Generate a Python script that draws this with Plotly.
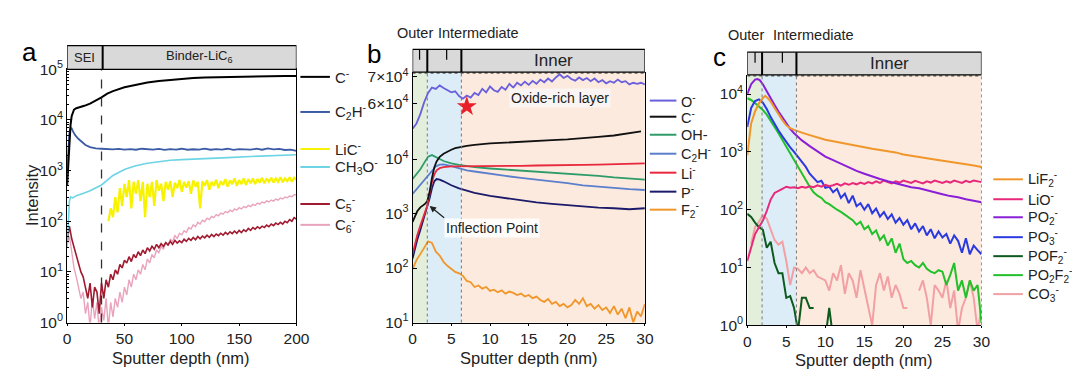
import plotly.graph_objects as go

# ================= DATA =================
# ---- panel a (depth 0-200 nm) ----
a_c_x = [0, 1, 2, 3, 4, 5, 6, 8, 10, 12, 15, 20, 25, 30, 35, 40, 50, 60, 70, 80, 90, 100, 110, 120, 130, 140, 150, 160, 170, 180, 190, 200]
a_c_y = [500, 1500, 4000, 8000, 12000, 14500, 16000, 17000, 17500, 18000, 19000, 21000, 24000, 28000, 33000, 37000, 44000, 50000, 55000, 59000, 62000, 65000, 67000, 69000, 70000, 71000, 72000, 72500, 73000, 73500, 74000, 74000]

a_c2h_x = [0, 1, 2, 3, 4, 5, 7, 10, 13, 16, 20, 25, 30, 35, 40, 45, 50, 55, 60, 65, 70, 75, 80, 85, 90, 95, 100, 105, 110, 115, 120, 125, 130, 135, 140, 145, 150, 155, 160, 165, 170, 175, 180, 185, 190, 195, 200]
a_c2h_y = [1000, 2500, 5500, 7000, 6800, 6000, 5000, 4200, 3600, 3200, 2900, 2750, 2700, 2650, 2620, 2680, 2600, 2650, 2580, 2700, 2620, 2600, 2680, 2560, 2650, 2600, 2700, 2580, 2640, 2600, 2720, 2580, 2660, 2600, 2700, 2560, 2650, 2620, 2600, 2700, 2580, 2750, 2620, 2680, 2550, 2600, 2450]

a_ch3o_x = [0, 1, 2, 3, 5, 8, 10, 15, 20, 25, 30, 35, 40, 45, 50, 55, 60, 70, 80, 90, 100, 110, 120, 140, 160, 180, 200]
a_ch3o_y = [30, 120, 250, 300, 290, 320, 330, 360, 400, 460, 520, 650, 800, 920, 1050, 1150, 1250, 1400, 1500, 1600, 1650, 1700, 1750, 1800, 1900, 1950, 2050]

a_lic_x = [36, 38, 40, 42, 44, 46, 48, 50, 52, 54, 56, 58, 60, 62, 64, 66, 68, 70, 72, 74, 76, 78, 80, 82, 84, 86, 88, 90, 92, 94, 96, 98, 100, 102, 104, 106, 108, 110, 112, 114, 116, 118, 120, 122, 124, 126, 128, 130, 132, 134, 136, 138, 140, 142, 144, 146, 148, 150, 152, 154, 156, 158, 160, 162, 164, 166, 168, 170, 172, 174, 176, 178, 180, 182, 184, 186, 188, 190, 192, 194, 196, 198, 200]
a_lic_y = [100, 180, 120, 300, 150, 450, 200, 550, 300, 650, 180, 600, 350, 650, 250, 600, 120, 550, 300, 600, 200, 650, 400, 550, 250, 600, 420, 620, 300, 580, 450, 650, 380, 600, 460, 620, 350, 640, 480, 600, 180, 620, 500, 650, 420, 600, 500, 660, 450, 620, 520, 680, 480, 640, 540, 700, 500, 650, 540, 700, 520, 680, 560, 700, 540, 680, 580, 720, 560, 700, 600, 720, 580, 700, 600, 740, 590, 700, 620, 740, 600, 720, 650]

a_noise_x = [0, 2, 4, 6, 8, 10, 12, 14, 16, 18, 20, 22, 24, 26, 28, 30, 32, 34, 36, 38, 40, 42, 44, 46, 48, 50, 52, 54, 56, 58, 60, 62, 64, 66, 68, 70, 72, 74, 76, 78, 80, 82, 84, 86, 88, 90, 92, 94, 96, 98, 100, 102, 104, 106, 108, 110, 112, 114, 116, 118, 120, 122, 124, 126, 128, 130, 132, 134, 136, 138, 140, 142, 144, 146, 148, 150, 152, 154, 156, 158, 160, 162, 164, 166, 168, 170, 172, 174, 176, 178, 180, 182, 184, 186, 188, 190, 192, 194, 196, 198, 200]
a_c5_y = [40, 80, 45, 30, 20, 14, 10, 8, 5, 3, 6, 2, 5, 4, 1.5, 6, 3, 7, 5, 9, 7, 11, 9, 14, 12, 17, 15, 20, 16, 22, 19, 25, 21, 27, 23, 30, 26, 32, 28, 35, 30, 36, 32, 38, 34, 40, 35, 42, 37, 41, 38, 44, 40, 46, 42, 48, 43, 50, 45, 51, 47, 53, 48, 55, 50, 56, 52, 58, 53, 60, 55, 62, 57, 64, 58, 66, 60, 68, 63, 72, 66, 75, 70, 78, 72, 80, 75, 84, 78, 88, 82, 92, 86, 95, 88, 100, 94, 108, 100, 118, 110]
a_c6_y = [35, 50, 25, 12, 8, 5, 3, 4, 1.5, 2.5, 0.8, 3, 1.2, 2.5, 0.7, 2, 1.1, 3, 0.8, 2.5, 1.3, 3, 2, 4, 2.5, 5, 3.5, 7, 5, 9, 7, 11, 9, 14, 11, 18, 15, 22, 19, 27, 24, 32, 28, 38, 33, 44, 40, 52, 46, 58, 54, 65, 60, 75, 70, 85, 78, 95, 88, 105, 98, 115, 108, 125, 118, 135, 128, 145, 138, 155, 148, 165, 155, 175, 165, 185, 175, 195, 185, 205, 195, 215, 205, 228, 218, 240, 230, 252, 240, 262, 250, 275, 262, 288, 275, 300, 290, 315, 305, 335, 330]

# ---- panel b (depth 0-30 nm) ----
b_fine_x = [0, 0.5, 1, 1.5, 2, 2.5, 3, 3.5, 4, 4.5, 5, 5.5, 6, 6.5, 7, 7.5, 8, 8.5, 9, 9.5, 10, 10.5, 11, 11.5, 12, 12.5, 13, 13.5, 14, 14.5, 15, 15.5, 16, 16.5, 17, 17.5, 18, 18.5, 19, 19.5, 20, 20.5, 21, 21.5, 22, 22.5, 23, 23.5, 24, 24.5, 25, 25.5, 26, 26.5, 27, 27.5, 28, 28.5, 29, 29.5, 30]
b_o_y = [50500, 52500, 56000, 60500, 64000, 66000, 65500, 66800, 65800, 65000, 64200, 64600, 62800, 61800, 63000, 62200, 64000, 63200, 65500, 64200, 66400, 65000, 64400, 66200, 65200, 67400, 66000, 67800, 66800, 68200, 67000, 68500, 67400, 69000, 68000, 69400, 68300, 69800, 71000, 69600, 70400, 69200, 68600, 69800, 68800, 69600, 68400, 69400, 68000, 68800, 67600, 68400, 67800, 69000, 68000, 68400, 67200, 67800, 67400, 67800, 67200]
b_f2_y = [95, 140, 180, 240, 310, 290, 200, 170, 130, 110, 95, 85, 80, 72, 58, 55, 45, 48, 42, 45, 38, 40, 36, 39, 34, 37, 35, 32, 34, 30, 32, 28, 30, 26, 24, 27, 22, 24, 20, 22, 19, 21, 26, 22, 28, 20, 22, 18, 21, 17, 19, 15, 20, 14, 18, 12, 19, 10, 16, 13, 22]

b_c_x = [0, 0.3, 0.6, 1, 1.3, 1.6, 1.9, 2.2, 2.5, 2.8, 3.1, 3.5, 4, 4.5, 5, 5.5, 6, 7, 8, 9, 10, 12, 14, 16, 18, 20, 22, 24, 26, 28, 29.5]
b_c_y = [700, 900, 1100, 1300, 1400, 1500, 1700, 2500, 4500, 7000, 9000, 11000, 12500, 13800, 14800, 15800, 16500, 17500, 18200, 18800, 19300, 20000, 20500, 21300, 22200, 23000, 24000, 25500, 27000, 29500, 32000]

b_mid_x = [0, 0.5, 1, 1.5, 2, 2.5, 3, 3.5, 4, 5, 6, 7, 8, 10, 12, 14, 16, 18, 20, 22, 24, 26, 28, 30]
b_oh_y = [4300, 5200, 6500, 8500, 11000, 11800, 11000, 10000, 9200, 8300, 7800, 7400, 7100, 6700, 6400, 6200, 6000, 5700, 5400, 5100, 4900, 4600, 4400, 4200]
b_c2h_y = [2300, 2800, 3400, 4100, 5000, 6200, 7300, 7900, 8000, 7400, 6700, 6200, 5900, 5300, 4900, 4500, 4200, 3900, 3600, 3300, 3100, 2950, 2800, 2700]

b_li_x = [0, 0.3, 0.6, 1, 1.3, 1.6, 1.9, 2.2, 2.5, 2.8, 3.1, 3.5, 4, 5, 6, 8, 10, 12, 14, 16, 18, 20, 22, 24, 26, 28, 30]
b_li_y = [180, 280, 400, 600, 800, 1000, 1400, 2300, 3800, 5200, 6200, 6800, 7100, 7300, 7300, 7400, 7400, 7500, 7500, 7600, 7600, 7700, 7800, 7900, 8000, 8100, 8300]

b_p_x = [0, 0.3, 0.6, 1, 1.3, 1.6, 1.9, 2.2, 2.5, 2.8, 3.1, 3.5, 4, 5, 6, 7, 8, 10, 12, 14, 16, 18, 20, 22, 24, 26, 28, 30]
b_p_y = [150, 230, 330, 500, 700, 950, 1300, 1900, 2900, 3900, 4300, 4200, 3900, 3300, 2900, 2600, 2400, 2100, 1900, 1750, 1600, 1500, 1420, 1350, 1280, 1250, 1200, 1250]

b_star_x = [7.0]
b_star_y = [58900]

# ---- panel c (depth 0-30 nm) ----
c_x = [0, 0.5, 1, 1.5, 2, 2.5, 3, 3.5, 4, 4.5, 5, 5.5, 6, 6.5, 7, 7.5, 8, 8.5, 9, 9.5, 10, 10.5, 11, 11.5, 12, 12.5, 13, 13.5, 14, 14.5, 15, 15.5, 16, 16.5, 17, 17.5, 18, 18.5, 19, 19.5, 20, 20.5, 21, 21.5, 22, 22.5, 23, 23.5, 24, 24.5, 25, 25.5, 26, 26.5, 27, 27.5, 28, 28.5, 29, 29.5, 30]
c_lio_y = [13, 22, 38, 50, 65, 95, 150, 195, 215, 230, 250, 240, 245, 235, 250, 240, 255, 245, 265, 250, 270, 255, 265, 280, 260, 285, 270, 290, 275, 295, 280, 300, 285, 310, 290, 320, 300, 285, 310, 295, 320, 300, 290, 315, 300, 285, 310, 295, 320, 300, 290, 310, 295, 320, 300, 290, 315, 300, 320, 305, 300]
c_po3_y = [2700, 5750, 7600, 8100, 7100, 5500, 4000, 3000, 2350, 1860, 1480, 1200, 1000, 830, 680, 550, 420, 360, 300, 316, 240, 250, 200, 230, 160, 190, 130, 175, 115, 130, 100, 125, 87, 105, 76, 91, 69, 83, 60, 72, 55, 66, 46, 58, 42, 52, 36, 46, 32, 42, 33, 38, 26, 36, 29, 18, 32, 17, 24, 20, 17]
c_po2f2_y = [8500, 7900, 7000, 6200, 5300, 4400, 3500, 2700, 2100, 1600, 1250, 950, 720, 540, 420, 330, 250, 200, 175, 160, 135, 125, 110, 100, 92, 82, 72, 66, 55, 62, 46, 52, 38, 44, 30, 36, 24, 32, 18, 26, 14, 12, 13, 11, 10, 12, 9.5, 8.5, 8, 9, 8.5, 5, 7.5, 12, 4, 6, 3, 6, 4, 5, 1.1]
c_pof2_y = [85, 75, 60, 50, 45, 22, 28, 12, 8, 8, 3, 3.2, 2, 0.8, 3, 3, 2, 2, None, None, 0.6, 2, 0.6, None, None, None, None, None, None, None, None, None, None, None, None, None, None, None, None, None, None, None, None, None, None, None, None, None, None, None, None, None, None, None, None, None, None, None, None, None, None]
c_co3_y = [None, 26, 50, 62, 80, 70, 45, 30, 25, 28, 13, 5, 10, 9.5, 8, 10, 8, 9, 7, 6.5, 6, 4, 8, 6, 11, 3.5, 8, 6, 3, 9, 4.5, 2, 1, 5, 8, 4, 7, 3, 5, 3.5, 2, 2, None, None, 4, 6, 3, 1, 5, 4, 3, 6, 2, 4, 0.8, 2, 3, 6, 3, 0.8, 2]

c_lif2_x = [0, 0.5, 1, 1.5, 2, 2.3, 2.7, 3, 3.5, 4, 4.5, 5, 5.5, 6, 6.5, 7, 8, 9, 10, 11, 12, 13, 14, 15, 16, 17, 18, 19, 20, 21, 22, 23, 24, 25, 26, 27, 28, 29, 30]
c_lif2_y = [870, 3100, 5000, 6900, 8500, 9300, 8300, 7400, 5750, 4470, 3550, 2880, 2570, 2400, 2300, 2150, 1950, 1780, 1620, 1530, 1450, 1350, 1280, 1200, 1130, 1080, 1040, 980, 900, 850, 810, 780, 740, 700, 670, 640, 610, 580, 550]

c_po2_x = [0, 0.5, 1, 1.3, 1.6, 2, 2.5, 3, 3.5, 4, 4.5, 5, 5.5, 6, 7, 8, 9, 10, 11, 12, 13, 14, 15, 16, 17, 18, 19, 20, 21, 22, 23, 24, 25, 26, 27, 28, 29, 30]
c_po2_y = [10000, 14800, 17800, 18200, 17400, 14800, 11200, 8300, 6500, 5000, 4000, 3100, 2500, 2100, 1580, 1260, 1030, 830, 720, 620, 530, 470, 420, 375, 340, 310, 285, 265, 245, 235, 215, 200, 185, 172, 165, 152, 145, 135]

# legend labels / tick labels
a_names = ["C<sup>-</sup>", "C<sub>2</sub>H<sup>-</sup>", "LiC<sup>-</sup>", "CH<sub>3</sub>O<sup>-</sup>", "C<sub>5</sub><sup>-</sup>", "C<sub>6</sub><sup>-</sup>"]
b_names = ["O<sup>-</sup>", "C<sup>-</sup>", "OH-", "C<sub>2</sub>H<sup>-</sup>", "Li<sup>-</sup>", "P<sup>-</sup>", "F<sub>2</sub><sup>-</sup>"]
c_names = ["LiF<sub>2</sub><sup>-</sup>", "LiO<sup>-</sup>", "PO<sub>2</sub><sup>-</sup>", "PO<sub>3</sub><sup>-</sup>", "POF<sub>2</sub><sup>-</sup>", "PO<sub>2</sub>F<sub>2</sub><sup>-</sup>", "CO<sub>3</sub><sup>-</sup>"]
log_ticks = [1, 10, 100, 1000, 10000, 100000]
log_text = ["10<sup>0</sup>", "10<sup>1</sup>", "10<sup>2</sup>", "10<sup>3</sup>", "10<sup>4</sup>", "10<sup>5</sup>"]

# ================= STYLE =================
FONT = "Arial, Liberation Sans, sans-serif"
W, H = 1080, 370
def px(x): return x / W
def py(y): return 1 - y / H

a_cols = ["#000000", "#3b5ba5", "#f7f200", "#6cd4e4", "#a01a30", "#e9a3bd"]
b_cols = ["#6a5fdc", "#111111", "#2e9c6a", "#5b7fcc", "#e8283c", "#1c1a6a", "#f0962a"]
c_cols = ["#f0962a", "#e8287a", "#8a1fd8", "#2a3ae0", "#0d5a1e", "#22c02a", "#f2a0a4"]

fig = go.Figure()

def add(x, y, col, xa, ya, w=1.8):
    fig.add_trace(go.Scatter(x=x, y=y, mode="lines", line=dict(color=col, width=w),
                             xaxis=xa, yaxis=ya, showlegend=False, connectgaps=False,
                             hoverinfo="skip"))

# panel a traces
add(a_noise_x, a_c6_y, a_cols[5], "x", "y", 1.4)
add(a_noise_x, a_c5_y, a_cols[4], "x", "y", 1.6)
add(a_lic_x, a_lic_y, a_cols[2], "x", "y", 2.2)
add(a_ch3o_x, a_ch3o_y, a_cols[3], "x", "y", 1.6)
add(a_c2h_x, a_c2h_y, a_cols[1], "x", "y", 1.8)
add(a_c_x, a_c_y, a_cols[0], "x", "y", 2.0)

# panel b traces
add(b_fine_x, b_f2_y, b_cols[6], "x2", "y2")
add(b_p_x, b_p_y, b_cols[5], "x2", "y2")
add(b_mid_x, b_c2h_y, b_cols[3], "x2", "y2")
add(b_mid_x, b_oh_y, b_cols[2], "x2", "y2")
add(b_li_x, b_li_y, b_cols[4], "x2", "y2")
add(b_c_x, b_c_y, b_cols[1], "x2", "y2")
add(b_fine_x, b_o_y, b_cols[0], "x2", "y3")
fig.add_trace(go.Scatter(x=b_star_x, y=b_star_y, mode="markers", xaxis="x2", yaxis="y3",
                         marker=dict(symbol="star", size=15, color="#e8202a", line=dict(width=0)),
                         showlegend=False, hoverinfo="skip"))

# panel c traces
add(c_x, c_co3_y, c_cols[6], "x3", "y4", 2)
add(c_x, c_pof2_y, c_cols[4], "x3", "y4", 2)
add(c_x, c_po2f2_y, c_cols[5], "x3", "y4", 2)
add(c_x, c_po3_y, c_cols[3], "x3", "y4", 2)
add(c_x, c_lio_y, c_cols[1], "x3", "y4", 2)
add(c_po2_x, c_po2_y, c_cols[2], "x3", "y4", 2)
add(c_lif2_x, c_lif2_y, c_cols[0], "x3", "y4", 2)

# ================= AXES =================
tickfont = dict(family=FONT, size=15.5, color="#222")
common_x = dict(showgrid=False, zeroline=False, showline=True, linecolor="black", linewidth=1,
                ticks="outside", ticklen=2, tickcolor="black", tickfont=tickfont)
common_y = dict(showgrid=False, zeroline=False, showline=True, linecolor="black", linewidth=1,
                ticks="inside", ticklen=4, tickcolor="black", tickfont=tickfont)

A_X = [px(56), px(289)]; A_Y = [py(320), py(53)]
B_X = [px(407), px(643)]; B_YL = [py(320), py(116)]; B_YU = [py(116), py(56)]
C_X = [px(747), px(985)]; C_Y = [py(323), py(59)]

fig.update_layout(
    width=W, height=H, margin=dict(l=0, r=0, t=0, b=0),
    paper_bgcolor="white", plot_bgcolor="white", showlegend=False,
    font=dict(family=FONT, color="#222"),
    xaxis=dict(domain=A_X, anchor="y", range=[0, 200], tickvals=[0, 50, 100, 150, 200], mirror=True, **common_x),
    yaxis=dict(domain=A_Y, anchor="x", type="log", range=[0, 5], tickvals=log_ticks, ticktext=log_text, mirror=True,
               minor=dict(ticks="inside", ticklen=2, tickcolor="black", dtick="D1"), **common_y),
    xaxis2=dict(domain=B_X, anchor="y2", range=[0, 30], tickvals=[0, 5, 10, 15, 20, 25, 30], **common_x),
    yaxis2=dict(domain=B_YL, anchor="x2", type="log", range=[1, 4.55], tickvals=log_ticks[1:5], ticktext=log_text[1:5], mirror=True, **common_y),
    yaxis3=dict(domain=B_YU, anchor="x2", range=[50400, 71800], tickvals=[60000, 70000],
                ticktext=["6\u00d710<sup>4</sup>", "7\u00d710<sup>4</sup>"], mirror=True, **common_y),
    xaxis3=dict(domain=C_X, anchor="y4", range=[0, 30], tickvals=[0, 5, 10, 15, 20, 25, 30], **common_x),
    yaxis4=dict(domain=C_Y, anchor="x3", type="log", range=[0, 4.33], tickvals=log_ticks[:5], ticktext=log_text[:5], **common_y),
)

shapes = []
ann = []

# background regions (b, c)
for xr, yb, yt in [("x2", py(320), py(56)), ("x3", py(323), py(59))]:
    for x0, x1, col in [(0, 1.9, "#e3eedb"), (1.9, 6.3, "#ddedf8"), (6.3, 30, "#fbeadd")]:
        shapes.append(dict(type="rect", xref=xr, yref="paper", x0=x0, x1=x1, y0=yb, y1=yt,
                           fillcolor=col, line=dict(width=0), layer="below"))
    for xv in [1.9, 6.3]:
        shapes.append(dict(type="line", xref=xr, yref="paper", x0=xv, x1=xv, y0=yb, y1=yt,
                           line=dict(color="#777", width=1, dash="dot")))
# dotted top borders b, c and right border c
shapes.append(dict(type="line", xref="x2", yref="paper", x0=0, x1=30, y0=py(57), y1=py(57), line=dict(color="#333", width=1, dash="dot")))
shapes.append(dict(type="line", xref="x3", yref="paper", x0=0, x1=30, y0=py(60), y1=py(60), line=dict(color="#333", width=1, dash="dot")))
shapes.append(dict(type="line", xref="x3", yref="paper", x0=30, x1=30, y0=py(323), y1=py(59), line=dict(color="#333", width=1, dash="dot")))

# panel a dashed divider
shapes.append(dict(type="line", xref="x", yref="paper", x0=30, x1=30, y0=py(320), y1=py(53), line=dict(color="#333", width=1.3, dash="dash")))

# header bars
def header(xr, top, bot, segs, dividers, tick_x=None):
    shapes.append(dict(type="rect", xref=xr, yref="paper", x0=segs[0], x1=segs[1], y0=py(bot), y1=py(top),
                       fillcolor="#d9d9d9", line=dict(color="black", width=1.2)))
    for d in dividers:
        shapes.append(dict(type="line", xref=xr, yref="paper", x0=d, x1=d, y0=py(bot), y1=py(top),
                           line=dict(color="black", width=2)))
    if tick_x:
        for t in tick_x:
            shapes.append(dict(type="line", xref=xr, yref="paper", x0=t, x1=t, y0=py(top + 11), y1=py(top),
                               line=dict(color="black", width=1.2)))

header("x", 28, 53, [0, 200], [31])
header("x2", 32, 56, [0, 30], [1.9, 6.3], [0.9, 4.4])
header("x3", 35, 59, [0, 30], [1.9, 6.3], [1.0, 4.5])

def text(x, y, s, size=14, xref="paper", yref="paper", xanchor="center", angle=0, color="#222", **kw):
    ann.append(dict(x=x, y=y, xref=xref, yref=yref, text=s, showarrow=False, xanchor=xanchor,
                    yanchor="middle", textangle=angle, font=dict(family=FONT, size=size, color=color), **kw))

text(15, py(41), "SEI", 13, xref="x")
text(115, py(40), "Binder-LiC<sub>6</sub>", 13, xref="x")
text(18.2, py(44), "Inner", 17, xref="x2")
text(18.2, py(47), "Inner", 17, xref="x3")
text(px(409), py(15), "Outer", 14.5)
text(px(474), py(15), "Intermediate", 14.5)
text(px(746), py(17), "Outer", 14.5)
text(px(814), py(17), "Intermediate", 14.5)

# panel letters
text(px(18), py(35), "a", 26, color="black")
text(px(368), py(37), "b", 26, color="black")
text(px(719), py(40), "c", 26, color="black")

# axis titles
text(px(21), py(186), "Intensity", 16.5, angle=-90)
text(px(172), py(357), "Sputter depth (nm)", 16.5)
text(px(525), py(357), "Sputter depth (nm)", 16.5)
text(px(866), py(359), "Sputter depth (nm)", 16.5)

# in-plot annotations panel b
text(19.0, 62100, "Oxide-rich layer", 14, xref="x2", yref="y3", bgcolor="rgba(250,246,242,0.95)")
text(4.1, py(220), "Inflection Point", 14, xref="x2", xanchor="left", bgcolor="rgba(255,255,255,0.85)")
ann.append(dict(x=2.2, y=py(197), xref="x2", yref="paper", text="", showarrow=True, arrowhead=2, arrowsize=1,
                arrowwidth=1.3, arrowcolor="#222", ax=16, ay=13, axref="pixel", ayref="pixel"))

# custom legends
def legend(names, cols, ys, lx0, lx1, tx, size):
    for n, c, y in zip(names, cols, ys):
        shapes.append(dict(type="line", xref="paper", yref="paper", x0=px(lx0), x1=px(lx1), y0=py(y), y1=py(y),
                           line=dict(color=c, width=2)))
        ann.append(dict(x=px(tx), y=py(y), xref="paper", yref="paper", text=n, showarrow=False, xanchor="left",
                        yanchor="middle", font=dict(family=FONT, size=size, color="#222")))

legend(a_names, a_cols, [61, 98, 137, 156, 195, 217], 293, 323, 326, 15)
legend(b_names, b_cols, [86, 103, 122, 142, 162, 182, 201], 648, 675, 678, 14.5)
legend(c_names, c_cols, [169, 190, 209, 230, 250, 270, 290], 997, 1027, 1030, 14.5)

fig.update_layout(shapes=shapes, annotations=ann)
fig.write_html("out.html")
